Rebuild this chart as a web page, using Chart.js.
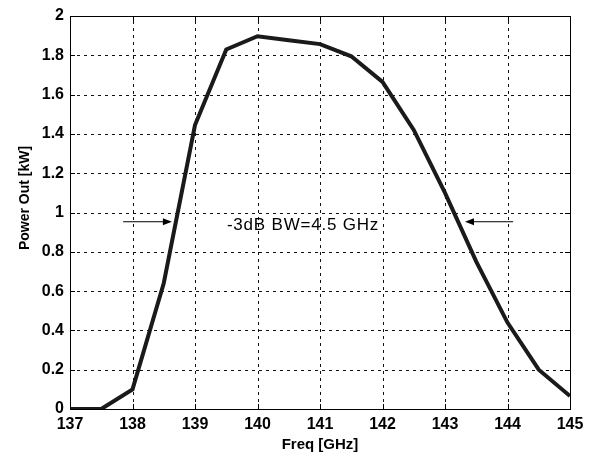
<!DOCTYPE html>
<html>
<head>
<meta charset="utf-8">
<script src="https://cdn.jsdelivr.net/npm/chart.js@4.4.1/dist/chart.umd.min.js"></script>
<style>
  html, body { margin: 0; padding: 0; background: #fff; }
  #wrap { width: 597px; height: 458px; }
</style>
</head>
<body>
<div id="wrap"><canvas id="powerChart"></canvas></div>
<script>
// ── Data ──────────────────────────────────────────────────────
const freqs = [137, 137.5, 138, 138.5, 139, 139.5, 140, 140.5, 141,
               141.5, 142, 142.5, 143, 143.5, 144, 144.5, 145];
const powerKW = [0, 0, 0.1, 0.64, 1.445, 1.83, 1.897, 1.877, 1.857,
                 1.795, 1.665, 1.42, 1.1, 0.75, 0.44, 0.2, 0.066];

const xTickLabels = ['137', '138', '139', '140', '141', '142', '143', '144', '145'];
const yTickLabels = ['0', '0.2', '0.4', '0.6', '0.8', '1', '1.2', '1.4', '1.6', '1.8', '2'];

// -3dB bandwidth markers (arrows point at the curve)
const bwLevel    = 0.953;
const bwArrowsX  = [[137.85, 138.63], [144.09, 143.32]];  // [tail, head]
const bwLabel    = '-3dB BW=4.5 GHz';
const bwLabelPos = [139.51, 0.935];

const yTitle = 'Power Out [kW]';

const FONT = "'Liberation Sans', Arial, sans-serif";
Chart.defaults.font.family = FONT;
Chart.defaults.color       = '#000';

// ── Dashed grid behind the curve ───────────────────────────────
const gridPlugin = {
  id: 'dashGrid',
  beforeDatasetsDraw(chart) {
    const { ctx, chartArea: a, scales: { x, y } } = chart;
    ctx.save();
    ctx.strokeStyle = '#111';
    ctx.lineWidth   = 1;
    ctx.setLineDash([3, 4]);
    x.ticks.forEach(t => {
      const px = Math.round(x.getPixelForValue(t.value)) + 0.5;
      ctx.beginPath();
      ctx.moveTo(px, a.bottom); ctx.lineTo(px, a.top);
      ctx.stroke();
    });
    y.ticks.forEach(t => {
      const py = Math.round(y.getPixelForValue(t.value)) + 0.5;
      ctx.beginPath();
      ctx.moveTo(a.left, py); ctx.lineTo(a.right, py);
      ctx.stroke();
    });
    ctx.restore();
  }
};

// ── Box, inward ticks, y title and the bandwidth annotation ────
const framePlugin = {
  id: 'frame',
  afterDraw(chart) {
    const { ctx, chartArea: a, scales: { x, y } } = chart;
    ctx.save();
    ctx.setLineDash([]);
    ctx.strokeStyle = '#000';
    ctx.lineWidth   = 1;
    ctx.strokeRect(Math.round(a.left) + 0.5, Math.round(a.top) + 0.5,
                   Math.round(a.right - a.left), Math.round(a.bottom - a.top));

    // tick marks pointing into the plot
    ctx.beginPath();
    x.ticks.forEach(t => {
      const px = Math.round(x.getPixelForValue(t.value)) + 0.5;
      ctx.moveTo(px, a.bottom); ctx.lineTo(px, a.bottom - 5);
      ctx.moveTo(px, a.top);    ctx.lineTo(px, a.top + 5);
    });
    y.ticks.forEach(t => {
      const py = Math.round(y.getPixelForValue(t.value)) + 0.5;
      ctx.moveTo(a.left, py);  ctx.lineTo(a.left + 5, py);
      ctx.moveTo(a.right, py); ctx.lineTo(a.right - 5, py);
    });
    ctx.stroke();

    // arrows
    const py = y.getPixelForValue(bwLevel);
    bwArrowsX.forEach(([tail, head]) => {
      const x0 = x.getPixelForValue(tail);
      const x1 = x.getPixelForValue(head);
      const dir = Math.sign(x1 - x0);
      ctx.beginPath();
      ctx.moveTo(x0, py); ctx.lineTo(x1 - dir * 8, py);
      ctx.stroke();
      ctx.beginPath();
      ctx.moveTo(x1, py);
      ctx.lineTo(x1 - dir * 9, py - 3.5);
      ctx.lineTo(x1 - dir * 9, py + 3.5);
      ctx.closePath();
      ctx.fillStyle = '#000';
      ctx.fill();
    });

    // annotation text
    ctx.fillStyle = '#000';
    ctx.font = `17px ${FONT}`;
    ctx.letterSpacing = '0.8px';
    ctx.textAlign = 'left';
    ctx.textBaseline = 'middle';
    ctx.fillText(bwLabel, x.getPixelForValue(bwLabelPos[0]), y.getPixelForValue(bwLabelPos[1]));

    // y axis title, rotated
    ctx.letterSpacing = '0px';
    ctx.font = `bold 14px ${FONT}`;
    ctx.textAlign = 'center';
    ctx.translate(25, 198);
    ctx.rotate(-Math.PI / 2);
    ctx.fillText(yTitle, 0, 0);
    ctx.restore();
  }
};

new Chart(document.getElementById('powerChart'), {
  type: 'line',
  data: {
    datasets: [{
      data:        freqs.map((f, i) => ({ x: f, y: powerKW[i] })),
      borderColor: '#1a1a1a',
      borderWidth: 4,
      pointRadius: 0,
      tension:     0,
      fill:        false
    }]
  },
  options: {
    responsive:          true,
    maintainAspectRatio: false,
    animation:           false,
    layout: { padding: { left: 0, top: 16, right: 27, bottom: 0 } },
    plugins: {
      legend:  { display: false },
      tooltip: { enabled: false }
    },
    scales: {
      x: {
        type: 'linear',
        min: 137, max: 145,
        afterFit: (s) => { s.height = 49; },
        ticks: {
          stepSize: 1,
          padding:  6,
          font:     { size: 16, weight: 'bold' },
          callback: (v) => xTickLabels[Math.round(v - 137)]
        },
        grid:   { display: false, drawTicks: false },
        border: { display: false },
        title: {
          display: true,
          text:    'Freq [GHz]',
          font:    { size: 15, weight: 'bold' },
          padding: { top: 0, bottom: 4 }
        }
      },
      y: {
        min: 0, max: 2,
        afterFit: (s) => { s.width = 70; },
        ticks: {
          stepSize: 0.2,
          padding:  6,
          font:     { size: 16, weight: 'bold' },
          callback: (v) => yTickLabels[Math.round(v / 0.2)]
        },
        grid:   { display: false, drawTicks: false },
        border: { display: false }
      }
    }
  },
  plugins: [gridPlugin, framePlugin]
});
</script>
</body>
</html>
